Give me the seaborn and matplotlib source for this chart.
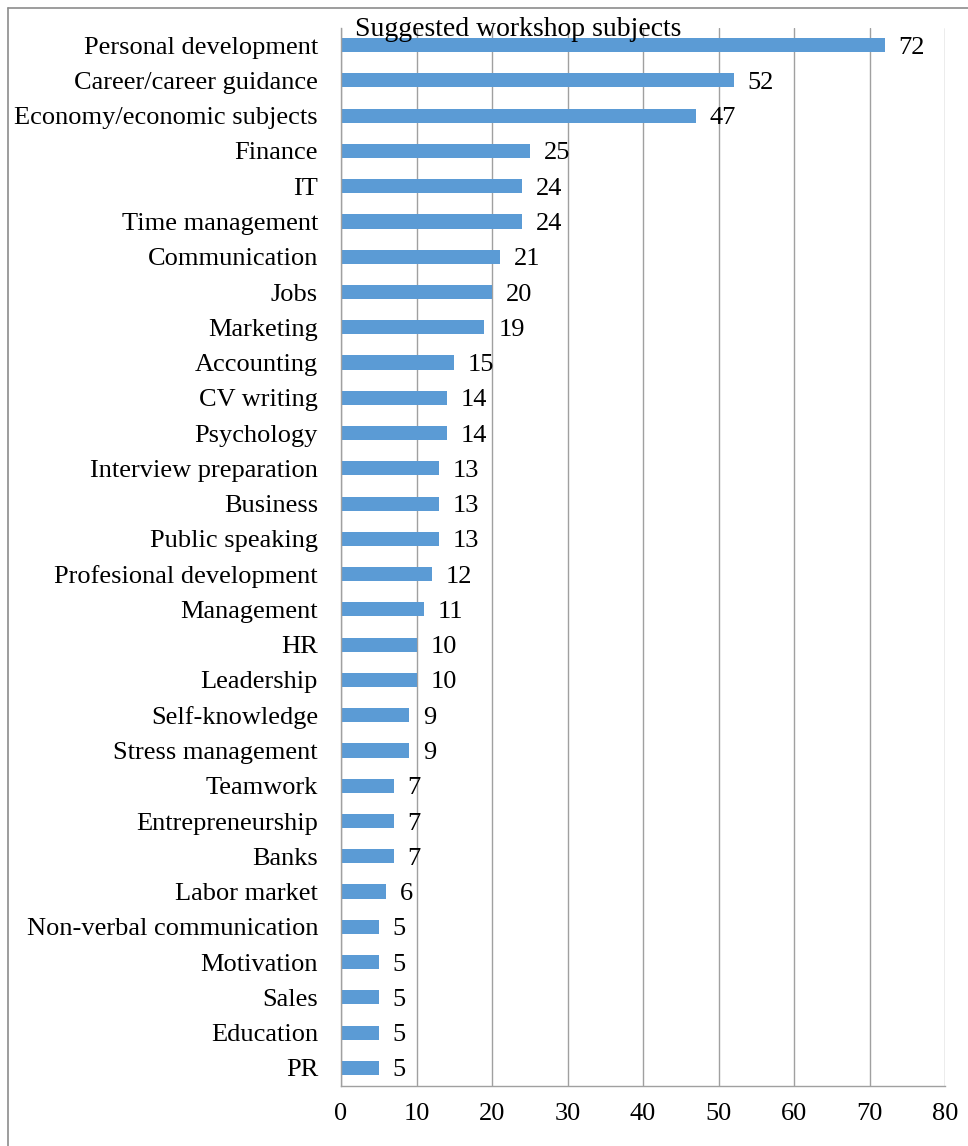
import matplotlib
matplotlib.use("Agg")
import matplotlib.pyplot as plt
from matplotlib.lines import Line2D
from matplotlib.ticker import FixedLocator
import numpy as np
import pandas as pd
import seaborn as sns

subjects = [
    "Personal development", "Career/career guidance", "Economy/economic subjects",
    "Finance", "IT", "Time management", "Communication", "Jobs", "Marketing",
    "Accounting", "CV writing", "Psychology", "Interview preparation", "Business",
    "Public speaking", "Profesional development", "Management", "HR", "Leadership",
    "Self-knowledge", "Stress management", "Teamwork", "Entrepreneurship", "Banks",
    "Labor market", "Non-verbal communication", "Motivation", "Sales", "Education", "PR",
]
counts = [72, 52, 47, 25, 24, 24, 21, 20, 19, 15, 14, 14, 13, 13, 13, 12, 11, 10, 10,
          9, 9, 7, 7, 7, 6, 5, 5, 5, 5, 5]
x_ticks = [0, 10, 20, 30, 40, 50, 60, 70, 80]
title = "Suggested workshop subjects"

df = pd.DataFrame({"subject": subjects, "count": counts})

sns.set_style("white")
plt.rcParams["font.family"] = ["Liberation Serif", "DejaVu Serif"]
plt.rcParams["text.color"] = "black"
plt.rcParams["xtick.labelcolor"] = "black"
plt.rcParams["ytick.labelcolor"] = "black"

W, H, DPI = 968, 1146, 100
fig = plt.figure(figsize=(W / DPI, H / DPI), dpi=DPI)
ax = fig.add_axes([341 / W, 60.5 / H, (945 - 341) / W, (1085.5 - 27.5) / H])

bar_color = "#5b9bd5"
grid_color = "#a0a0a0"

sns.barplot(data=df, x="count", y="subject", orient="h", color=bar_color,
            width=0.4, saturation=1, edgecolor="none", ax=ax)

ax.set_xlim(0, 80)
ax.set_ylim(len(subjects) - 0.5, -0.5)
ax.set_xticks(x_ticks)
ax.set_xticklabels([str(t) for t in x_ticks])
ax.set_xlabel("")
ax.set_ylabel("")

ax.xaxis.grid(True, color=grid_color, linewidth=1.0)
ax.set_axisbelow(True)

for side in ["top", "right"]:
    ax.spines[side].set_visible(False)
for side in ["left", "bottom"]:
    ax.spines[side].set_color(grid_color)
    ax.spines[side].set_linewidth(1.0)

ax.tick_params(axis="y", which="major", length=0, pad=16.5, labelsize=19,
               labelcolor="black")
ax.yaxis.set_minor_locator(FixedLocator(np.arange(-0.5, len(subjects) + 0.5, 1)))
ax.tick_params(axis="y", which="minor", length=4.5, color=grid_color, width=1.0,
               direction="out")
ax.tick_params(axis="x", which="major", length=4.5, color=grid_color, width=1.0,
               direction="out", pad=8, labelsize=19, labelcolor="black")

for c in ax.containers:
    texts = ax.bar_label(c, labels=[str(v) for v in counts], padding=10,
                         fontsize=19, color="black")
    for t in texts:
        t.set_verticalalignment("center_baseline")

fig.text(518.5 / W, 1 - 36 / H, title, ha="center", va="baseline", fontsize=20,
         color="black")

# outer frame
fig.add_artist(Line2D([8 / W, 8 / W], [0, 1 - 8 / H], transform=fig.transFigure,
                      color="#8c8c8c", linewidth=1.2))
fig.add_artist(Line2D([8 / W, 1], [1 - 8 / H, 1 - 8 / H], transform=fig.transFigure,
                      color="#8c8c8c", linewidth=1.2))

fig.savefig("out.png", dpi=DPI)
